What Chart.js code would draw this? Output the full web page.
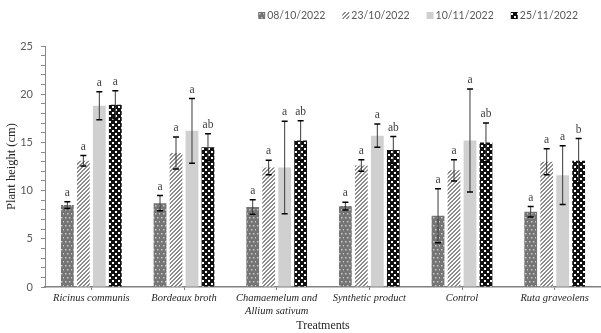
<!DOCTYPE html>
<html>
<head>
<meta charset="utf-8">
<script src="https://cdn.jsdelivr.net/npm/chart.js@4.4.1/dist/chart.umd.min.js"></script>
<style>
  html, body { margin: 0; padding: 0; background: #fff; }
  #wrap { width: 601px; height: 333px; }
</style>
</head>
<body>
<div id="wrap"><canvas id="chart"></canvas></div>
<script>
// treatments on the x axis
var treatments = ['Ricinus communis', 'Bordeaux broth', ['Chamaemelum and', 'Allium sativum'],
                  'Synthetic product', 'Control', 'Ruta graveolens'];
var dates = ['08/10/2022', '23/10/2022', '10/11/2022', '25/11/2022'];

// mean plant height (cm) per sampling date
var h0810 = [8.5, 8.7, 8.3, 8.4, 7.4, 7.8];
var h2310 = [13.1, 13.9, 12.4, 12.6, 12.1, 13.0];
var h1011 = [18.8, 16.2, 12.4, 15.7, 15.2, 11.6];
var h2511 = [18.9, 14.5, 15.2, 14.2, 15.0, 13.1];

// error (+/-)
var e0810 = [0.35, 0.8, 0.75, 0.4, 2.8, 0.55];
var e2310 = [0.55, 1.65, 0.75, 0.6, 1.1, 1.35];
var e1011 = [1.45, 3.35, 4.8, 1.2, 5.35, 3.05];
var e2511 = [1.45, 1.4, 2.05, 1.4, 2.0, 2.3];

// significance letters
var l0810 = ['a', 'a', 'a', 'a', 'a', 'a'];
var l2310 = ['a', 'a', 'a', 'a', 'a', 'a'];
var l1011 = ['a', 'a', 'a', 'a', 'a', 'a'];
var l2511 = ['a', 'ab', 'ab', 'ab', 'ab', 'b'];

var yTicks = [0, 5, 10, 15, 20, 25];

function makePattern(kind) {
    var c = document.createElement('canvas');
    var g = c.getContext('2d');
    if (kind == 'dots') {
        c.width = 8; c.height = 8;
        g.fillStyle = '#757575'; g.fillRect(0, 0, 8, 8);
        g.fillStyle = '#c8c8c8';
        [[1, 1], [5, 1], [3, 5], [7, 5]].forEach(function (p) { g.fillRect(p[0], p[1], 1.5, 1.5); });
    } else if (kind == 'stripes') {
        c.width = 4; c.height = 4;
        g.fillStyle = '#ffffff'; g.fillRect(0, 0, 4, 4);
        g.fillStyle = '#8c8c8c';
        for (var x = 0; x < 4; x++) for (var y = 0; y < 4; y++) {
            if ((x + y) % 4 < 2) g.fillRect(x, y, 1, 1);
        }
    } else if (kind == 'checker') {
        c.width = 6; c.height = 6;
        g.fillStyle = '#111111'; g.fillRect(0, 0, 6, 6);
        g.fillStyle = '#ffffff';
        g.fillRect(1, 1, 2, 2);
        g.fillRect(4, 4, 2, 2);
    }
    return g.createPattern(c, 'repeat');
}

var ctx = document.getElementById('chart').getContext('2d');
var fills = [makePattern('dots'), makePattern('stripes'), '#d0d0d0', makePattern('checker')];
var values = [h0810, h2310, h1011, h2511];
var errors = [e0810, e2310, e1011, e2511];
var letters = [l0810, l2310, l1011, l2511];

var errorBars = {
    id: 'errorBars',
    afterDatasetsDraw: function (chart) {
        var c = chart.ctx;
        var ys = chart.scales.y;
        c.save();
        chart.data.datasets.forEach(function (ds, i) {
            var meta = chart.getDatasetMeta(i);
            meta.data.forEach(function (bar, j) {
                var v = ds.data[j], e = errors[i][j];
                var top = ys.getPixelForValue(v + e), bot = ys.getPixelForValue(v - e);
                c.strokeStyle = '#3a3a3a';
                c.lineWidth = 1;
                c.beginPath();
                c.moveTo(bar.x, top); c.lineTo(bar.x, bot);
                c.stroke();
                c.strokeStyle = '#000';
                c.lineWidth = 1.5;
                c.beginPath();
                c.moveTo(bar.x - 3, top); c.lineTo(bar.x + 3, top);
                c.moveTo(bar.x - 3, bot); c.lineTo(bar.x + 3, bot);
                c.stroke();
                c.fillStyle = '#404040';
                c.font = '11.5px "Liberation Serif"';
                c.textAlign = 'center';
                c.textBaseline = 'bottom';
                c.fillText(letters[i][j], bar.x, top - 3);
            });
        });
        c.restore();
    }
};

var topLegend = {
    id: 'topLegend',
    afterDraw: function (chart) {
        var c = chart.ctx;
        c.save();
        c.font = '10.5px Lato';
        c.textBaseline = 'middle';
        c.textAlign = 'left';
        var gap = 17, total = 0;
        chart.data.datasets.forEach(function (ds, i) {
            total += 9 + c.measureText(ds.label).width + (i ? gap : 0);
        });
        var x = 578 - total;
        chart.data.datasets.forEach(function (ds) {
            c.fillStyle = ds.backgroundColor;
            c.fillRect(x, 12, 7, 7);
            c.fillStyle = '#595959';
            c.fillText(ds.label, x + 9, 16);
            x += 9 + c.measureText(ds.label).width + gap;
        });
        c.restore();
    }
};

new Chart(ctx, {
    type: 'bar',
    data: {
        labels: treatments,
        datasets: dates.map(function (d, i) {
            return {
                label: d,
                data: values[i],
                backgroundColor: fills[i],
                borderWidth: 0,
                categoryPercentage: 0.69,
                barPercentage: 0.8
            };
        })
    },
    options: {
        responsive: true,
        maintainAspectRatio: false,
        animation: false,
        layout: { padding: { top: 46, right: 0, left: 0, bottom: 0 } },
        plugins: {
            legend: { display: false },
            tooltip: { enabled: false }
        },
        scales: {
            x: {
                afterFit: function (s) { s.height = 46; },
                grid: { display: true, drawOnChartArea: false, offset: false, tickLength: 3, color: '#808080' },
                border: { color: '#808080', width: 1.5 },
                ticks: {
                    color: '#262626',
                    font: { family: 'Liberation Serif', size: 10.5, style: 'italic' },
                    padding: 2,
                    maxRotation: 0,
                    autoSkip: false
                },
                title: {
                    display: true,
                    text: 'Treatments',
                    color: '#262626',
                    font: { family: 'Liberation Serif', size: 12 },
                    padding: { top: 0, bottom: 0 }
                }
            },
            y: {
                min: 0,
                max: 25,
                afterFit: function (s) { s.width = 45; },
                afterBuildTicks: function (s) {
                    var t = [];
                    for (var v = 0; v <= 25; v++) t.push({ value: v });
                    s.ticks = t;
                },
                grid: { display: true, drawOnChartArea: false, tickLength: 4, color: '#8a8a8a' },
                border: { color: '#8a8a8a', width: 1 },
                ticks: {
                    autoSkip: false,
                    color: '#595959',
                    font: { family: 'Lato', size: 11 },
                    padding: 8,
                    callback: function (v) { return yTicks.indexOf(v) >= 0 ? v : ''; }
                },
                title: {
                    display: true,
                    text: 'Plant height (cm)',
                    color: '#262626',
                    font: { family: 'Liberation Serif', size: 12.5 },
                    padding: { top: 4, bottom: 0 }
                }
            }
        }
    },
    plugins: [errorBars, topLegend]
});
</script>
</body>
</html>
